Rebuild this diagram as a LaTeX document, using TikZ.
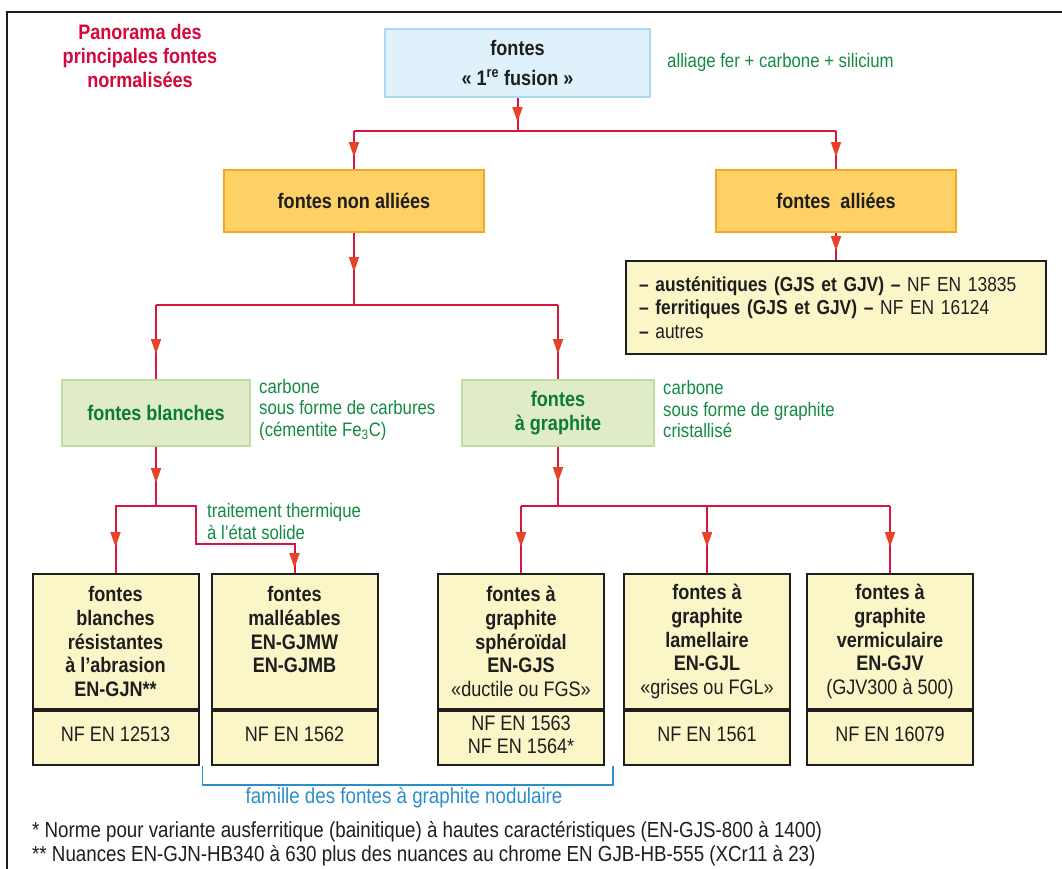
\documentclass[tikz,border=0pt]{standalone}
\usepackage{fontspec}
\setmainfont{Liberation Sans}[FakeStretch=0.86]
\usepackage{xcolor}
\usetikzlibrary{arrows.meta,decorations.markings}

\definecolor{lien}{HTML}{D7163F}
\definecolor{pointe}{HTML}{E8432A}
\definecolor{bleufond}{HTML}{DFF1FB}
\definecolor{bleubord}{HTML}{A9DAF2}
\definecolor{orfond}{HTML}{FDD166}
\definecolor{orbord}{HTML}{F5A623}
\definecolor{vertfond}{HTML}{E0EBC7}
\definecolor{vertbord}{HTML}{BFDCA6}
\definecolor{vert}{HTML}{138A43}
\definecolor{vertfonce}{HTML}{0B7A3B}
\definecolor{jaune}{HTML}{FBF6C8}
\definecolor{encre}{HTML}{1E1E1E}
\definecolor{titre}{HTML}{D4083D}
\definecolor{famille}{HTML}{2B8ECC}

\newcommand{\taille}{\fontsize{21}{23.6}\selectfont}
\newcommand{\tnote}{\fontsize{19.5}{21.5}\selectfont}

\begin{document}
\begin{tikzpicture}[
    x=1pt, y=-1pt,
    link/.style={draw=lien, line width=2pt},
    tipat/.style={postaction={decorate}, decoration={markings,
        mark=at position -#1 with {\arrow{Triangle[length=15pt,width=10pt,color=pointe]}}}},
    boite/.style={rectangle, line width=2pt, inner sep=0pt, align=center, text=encre, font=\taille\bfseries},
    bleu/.style={boite, draw=bleubord, fill=bleufond},
    orange/.style={boite, draw=orbord, fill=orfond, minimum height=62pt},
    verte/.style={boite, draw=vertbord, fill=vertfond, text=vertfonce, minimum height=66pt},
    norme/.style={boite, draw=encre, fill=jaune, minimum width=166pt},
    haut/.style={norme, minimum height=135pt, anchor=north},
    bas/.style={norme, minimum height=54pt, anchor=north, text depth=7pt, font=\taille},
    note/.style={text=vert, font=\tnote, align=left, anchor=west, inner sep=0pt}
]
    \useasboundingbox (0,0) rectangle (1062,868);
    \clip (0,0) rectangle (1062,868);
    \draw[line width=2.5pt, draw=encre] (7,12) rectangle (1090,890);

    \node[text=titre, font=\taille\bfseries, align=center] (titre) at (140,56)
        {Panorama des\\principales fontes\\normalisées};

    % premier niveau
    \node[bleu, minimum width=265pt, minimum height=68pt] (fonte) at (517.5,63)
        {fontes\\[6pt]«~1\textsuperscript{re} fusion~»};
    \node[note] (alliage) at (667,62) {alliage fer + carbone + silicium};

    \node[orange, minimum width=260pt] (nonall) at (354,201) {fontes non alliées};
    \node[orange, minimum width=240pt] (allie) at (836,201) {fontes\ \ alliées};

    \node[boite, draw=encre, fill=jaune, minimum width=420pt, minimum height=93pt,
          text width=394pt, align=left, font=\fontsize{20.2}{23.6}\selectfont] (liste) at (836,307.5)
        {\textbf{– austénitiques (GJS et GJV) –} NF EN 13835\\
         \textbf{– ferritiques (GJS et GJV) –} NF EN 16124\\
         \textbf{–} autres};

    % blanches / graphite
    \node[verte, minimum width=188pt] (blanc) at (156,413) {fontes blanches};
    \node[note] (nblanc) at (259,409.5) {carbone\\sous forme de carbures\\(cémentite Fe\textsubscript{3}C)};
    \node[verte, minimum width=192pt] (graph) at (558,413) {fontes\\à graphite};
    \node[note] (ngraph) at (663,409.5) {carbone\\sous forme de graphite\\cristallisé};
    \node[note] (traite) at (207,521.5) {traitement thermique\\à l’état solide};

    % nuances normalisees
    \node[haut] (abr) at (115.5,573) {fontes\\blanches\\résistantes\\à l’abrasion\\EN-GJN**};
    \node[bas] (abrn) at (abr.south) {NF EN 12513};
    \node[haut] (mall) at (294.5,573) {fontes\\malléables\\EN-GJMW\\EN-GJMB\\\mbox{}};
    \node[bas] (malln) at (mall.south) {NF EN 1562};
    \node[haut] (fgs) at (521,573) {fontes à\\graphite\\sphéroïdal\\EN-GJS\\{\mdseries «ductile ou FGS»}};
    \node[bas] (fgsn) at (fgs.south) {NF EN 1563\\NF EN 1564*};
    \node[haut] (fgl) at (707,573) {fontes à\\graphite\\lamellaire\\EN-GJL\\{\mdseries «grises ou FGL»}};
    \node[bas] (fgln) at (fgl.south) {NF EN 1561};
    \node[haut] (fgv) at (890,573) {fontes à\\graphite\\vermiculaire\\EN-GJV\\{\mdseries (GJV300 à 500)}};
    \node[bas] (fgvn) at (fgv.south) {NF EN 16079};

    % liaisons
    \coordinate (b1) at (517.5,131);
    \coordinate (b2) at (354,305);
    \coordinate (b3) at (156,506);
    \coordinate (b4) at (558,506);
    \coordinate (coude) at (196,544);

    \draw[link, tipat=9pt] (fonte) -- (b1);
    \draw[link] (b1 -| nonall) -- (b1 -| allie);
    \draw[link, tipat=12pt] (b1 -| nonall) -- (nonall);
    \draw[link, tipat=12pt] (b1 -| allie) -- (allie);
    \draw[link, tipat=9pt] (allie) -- (liste);

    \draw[link, tipat=33pt] (nonall) -- (b2);
    \draw[link] (b2 -| blanc) -- (b2 -| graph);
    \draw[link, tipat=25pt] (b2 -| blanc) -- (blanc);
    \draw[link, tipat=25pt] (b2 -| graph) -- (graph);

    \draw[link, tipat=23pt] (blanc) -- (b3);
    \draw[link, tipat=26pt] (b3) -| (abr);
    \draw[link, tipat=5pt] (b3) -| (coude) -| (mall);

    \draw[link, tipat=24pt] (graph) -- (b4);
    \draw[link] (b4 -| fgs) -- (b4 -| fgv);
    \draw[link, tipat=26pt] (b4 -| fgs) -- (fgs);
    \draw[link, tipat=26pt] (b4 -| fgl) -- (fgl);
    \draw[link, tipat=26pt] (b4 -| fgv) -- (fgv);

    % famille nodulaire
    \draw[famille, line width=1.5pt] ([xshift=-8pt]malln.south west) -- ++(0,19)
        -| ([xshift=8pt]fgsn.south east);
    \node[text=famille, font=\fontsize{21.8}{24}\selectfont] (nodul) at (404,798) {famille des fontes à graphite nodulaire};

    \node[text=encre, font=\fontsize{21.8}{24}\selectfont, anchor=west, inner sep=0pt] (renvoi1) at (32,832)
        {* Norme pour variante ausferritique (bainitique) à hautes caractéristiques (EN-GJS-800 à 1400)};
    \node[text=encre, font=\fontsize{21.8}{24}\selectfont, anchor=west, inner sep=0pt] (renvoi2) at (32,856)
        {** Nuances EN-GJN-HB340 à 630 plus des nuances au chrome EN GJB-HB-555 (XCr11 à 23)};
\end{tikzpicture}
\end{document}
